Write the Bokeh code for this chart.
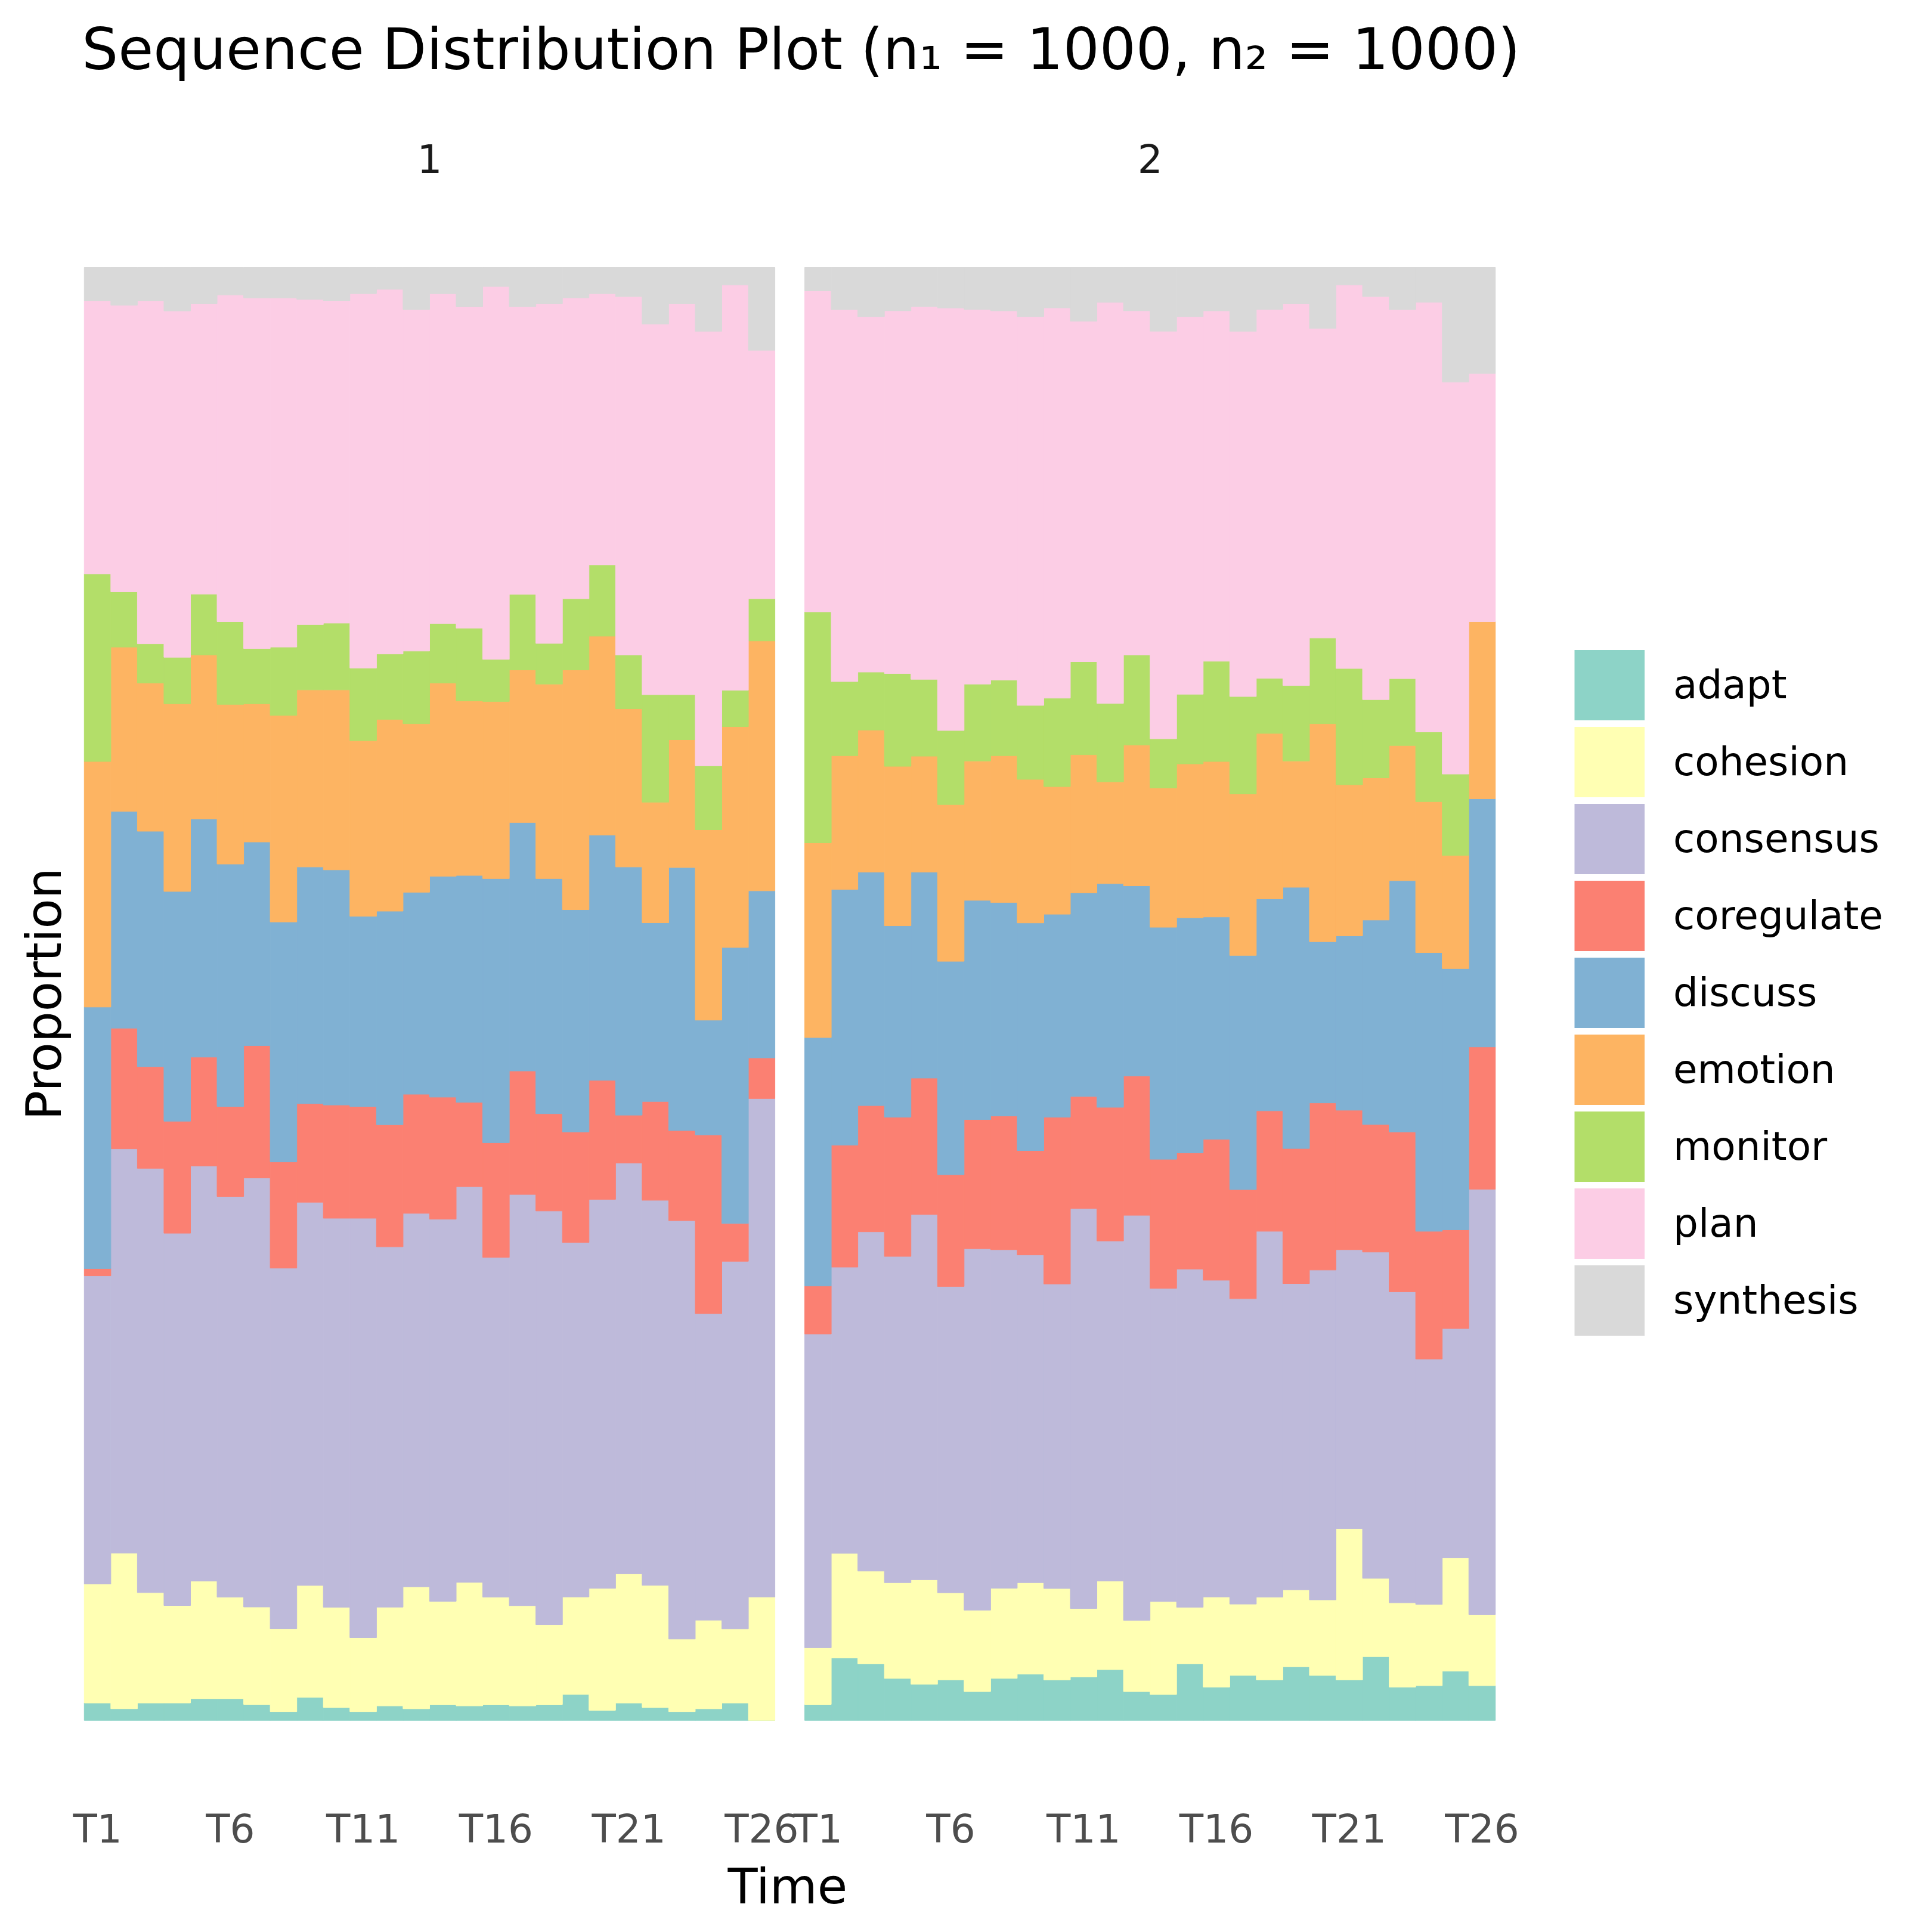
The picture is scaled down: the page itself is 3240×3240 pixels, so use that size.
import math
from bokeh.plotting import figure
from bokeh.models import (ColumnDataSource, Range1d, FixedTicker, Label, Legend,
                          LegendItem, Title)
from bokeh.embed import file_html
from bokeh.resources import INLINE

# ---------------- data ----------------
states = ["adapt", "cohesion", "consensus", "coregulate", "discuss",
          "emotion", "monitor", "plan", "synthesis"]
colors = ["#8DD3C7", "#FFFFB3", "#BEBADA", "#FB8072", "#80B1D3",
          "#FDB462", "#B3DE69", "#FCCDE5", "#D9D9D9"]
time_labels = [f"T{i}" for i in range(1, 27)]
shown_ticks = ["T1", "T6", "T11", "T16", "T21", "T26"]
group_labels = ["1", "2"]
n_seq = [1000, 1000]

# group 1 (per-mille, one value per time point)
g1_adapt = [12, 8, 12, 12, 15, 15, 11, 6, 16, 9, 6, 10, 8, 11, 10, 11, 10, 11, 18, 7, 12, 9, 6, 8, 12, 0]
g1_cohesion = [82, 107, 76, 67, 81, 70, 67, 57, 77, 69, 51, 68, 84, 71, 85, 74, 69, 55, 67, 84, 89, 84, 50, 61, 51, 85]
g1_consensus = [212, 278, 292, 256, 286, 276, 295, 248, 264, 268, 289, 248, 257, 263, 272, 234, 283, 285, 244, 268, 283, 265, 288, 211, 253, 343]
g1_coregulate = [5, 83, 70, 77, 75, 62, 91, 73, 68, 78, 77, 84, 82, 84, 58, 79, 85, 67, 76, 82, 33, 68, 62, 123, 26, 28]
g1_discuss = [180, 149, 162, 158, 164, 167, 140, 165, 163, 162, 131, 147, 139, 152, 156, 182, 171, 162, 153, 169, 171, 123, 181, 79, 190, 115]
g1_emotion = [169, 113, 102, 129, 113, 110, 95, 142, 122, 124, 121, 132, 116, 133, 120, 122, 105, 134, 165, 137, 109, 83, 88, 131, 152, 172]
g1_monitor = [129, 38, 27, 32, 42, 57, 38, 47, 45, 46, 50, 45, 50, 41, 50, 29, 52, 28, 49, 49, 37, 74, 31, 44, 25, 29]
g1_plan = [188, 197, 236, 238, 200, 225, 241, 240, 224, 222, 258, 251, 235, 227, 221, 257, 198, 234, 207, 187, 247, 255, 269, 299, 279, 171]
g1_synthesis = [23, 26, 23, 30, 25, 19, 21, 21, 22, 23, 18, 15, 29, 18, 27, 13, 27, 25, 21, 18, 20, 39, 25, 44, 12, 57]

# group 2
g2_adapt = [11, 43, 39, 29, 25, 28, 20, 29, 32, 28, 30, 35, 20, 18, 39, 23, 31, 28, 37, 31, 28, 44, 23, 24, 34, 24]
g2_cohesion = [39, 72, 64, 66, 72, 60, 56, 62, 63, 63, 47, 61, 49, 64, 39, 62, 49, 57, 53, 52, 104, 54, 58, 56, 78, 49]
g2_consensus = [216, 197, 234, 225, 252, 211, 249, 233, 226, 210, 275, 234, 279, 216, 233, 218, 210, 252, 211, 227, 192, 225, 214, 169, 158, 293]
g2_coregulate = [33, 84, 87, 96, 94, 77, 89, 92, 72, 115, 77, 92, 96, 89, 80, 97, 75, 83, 93, 115, 96, 88, 110, 88, 68, 98]
g2_discuss = [171, 176, 161, 132, 142, 147, 151, 147, 157, 140, 140, 154, 131, 160, 162, 153, 161, 146, 180, 111, 120, 141, 173, 192, 180, 171]
g2_emotion = [134, 92, 98, 110, 80, 108, 96, 101, 99, 88, 95, 70, 97, 96, 106, 107, 111, 114, 87, 150, 104, 98, 93, 104, 78, 122]
g2_monitor = [159, 51, 40, 64, 53, 51, 53, 52, 51, 61, 64, 54, 62, 34, 48, 69, 67, 38, 52, 59, 80, 54, 46, 48, 56, 0]
g2_plan = [221, 256, 245, 250, 257, 291, 258, 254, 268, 269, 234, 276, 237, 281, 260, 241, 251, 254, 263, 213, 264, 278, 254, 296, 270, 171]
g2_synthesis = [16, 29, 34, 30, 27, 28, 29, 30, 34, 28, 37, 24, 30, 44, 34, 30, 44, 29, 25, 42, 12, 20, 29, 24, 79, 73]

groups = [
    [g1_adapt, g1_cohesion, g1_consensus, g1_coregulate, g1_discuss,
     g1_emotion, g1_monitor, g1_plan, g1_synthesis],
    [g2_adapt, g2_cohesion, g2_consensus, g2_coregulate, g2_discuss,
     g2_emotion, g2_monitor, g2_plan, g2_synthesis],
]

# ---------------- layout constants (pixels) ----------------
W, H = 3224, 3224
FW, FB = W, 2998               # frame spans full width; frame bottom
PANEL_LEFT = 140.8             # pixel of the first facet's left edge
PANEL_TOP, PANEL_BOTTOM = 448.0, 2884.7
COL_PX = 44.55                 # pixel width of one time step
NT = len(time_labels)
GAP = 1.12                     # gap between facets, in time-step units
OFF = NT + GAP                 # x offset of the second facet
FONT = "DejaVu Sans"

UY = PANEL_BOTTOM - PANEL_TOP
x0 = -PANEL_LEFT / COL_PX
y0 = -(FB - PANEL_BOTTOM) / UY
y1 = 1 + PANEL_TOP / UY

p = figure(width=W, height=H, output_backend="svg", toolbar_location=None,
           x_range=Range1d(x0, x0 + FW / COL_PX), y_range=Range1d(y0, y1),
           min_border_left=0, min_border_right=0,
           min_border_top=0, min_border_bottom=H - FB)
p.outline_line_color = None
p.grid.visible = False
p.yaxis.visible = False
p.background_fill_color = "white"
p.border_fill_color = "white"

for gi, vals in enumerate(groups):
    totals = [sum(v[t] for v in vals) for t in range(NT)]
    data = {"x": [gi * OFF + t + 0.5 for t in range(NT)]}
    for s, v in zip(states, vals):
        data[s] = [v[t] / totals[t] for t in range(NT)]
    src = ColumnDataSource(data)
    p.vbar_stack(states, x="x", width=1.0, source=src,
                 color=colors, line_width=1)

# x axis ticks
tick_pos, overrides = [], {}
for gi in range(2):
    for lab in shown_ticks:
        pos = gi * OFF + time_labels.index(lab) + 0.5
        tick_pos.append(pos)
        overrides[pos] = lab
xa = p.xaxis[0]
xa.ticker = FixedTicker(ticks=tick_pos)
xa.major_label_overrides = overrides
xa.axis_line_color = None
xa.major_tick_line_color = None
xa.minor_tick_line_color = None
xa.major_label_standoff = 24
xa.major_label_text_font = FONT
xa.major_label_text_font_size = "66px"
xa.major_label_text_color = "#4D4D4D"

# x axis title, centred under the two facets
p.add_layout(Title(text="Time", align="left", offset=1220, standoff=10,
                   text_font=FONT, text_font_size="82px",
                   text_font_style="normal", text_color="black"), "below")

# legend: square swatches (single-point line renderers drawn as thick bars,
# a single point draws nothing in the plot itself)
SW = 118
swatches = [p.line(x=[0], y=[0], line_color=c, line_width=SW, line_cap="butt")
            for c in colors]
items = [LegendItem(label=s, renderers=[r]) for s, r in zip(states, swatches)]
legend = Legend(items=items, location=(2640, FB - 2244.5), orientation="vertical",
                glyph_width=SW, glyph_height=129, spacing=0,
                label_standoff=48, padding=0, margin=0,
                border_line_color=None, background_fill_alpha=0,
                label_text_font=FONT, label_text_font_size="66px",
                label_text_color="black", label_text_baseline="middle")
p.add_layout(legend)

# texts
title = f"Sequence Distribution Plot (n\u2081 = {n_seq[0]}, n\u2082 = {n_seq[1]})"
p.add_layout(Label(x=PANEL_LEFT - 4, y=FB - 82, x_units="screen", y_units="screen",
                   text=title, text_font=FONT, text_font_size="96px",
                   text_color="black", text_align="left", text_baseline="middle"))
for gi, g in enumerate(group_labels):
    p.add_layout(Label(x=gi * OFF + NT / 2, y=FB - 264.5, x_units="data", y_units="screen",
                       text=g, text_font=FONT, text_font_size="66px",
                       text_color="#1A1A1A", text_align="center",
                       text_baseline="middle"))
p.add_layout(Label(x=73, y=FB - (PANEL_TOP + PANEL_BOTTOM) / 2,
                   x_units="screen", y_units="screen",
                   text="Proportion", angle=math.pi / 2, text_font=FONT,
                   text_font_size="82px", text_color="black",
                   text_align="center", text_baseline="middle"))

open("out.html", "w").write(file_html(p, INLINE))
